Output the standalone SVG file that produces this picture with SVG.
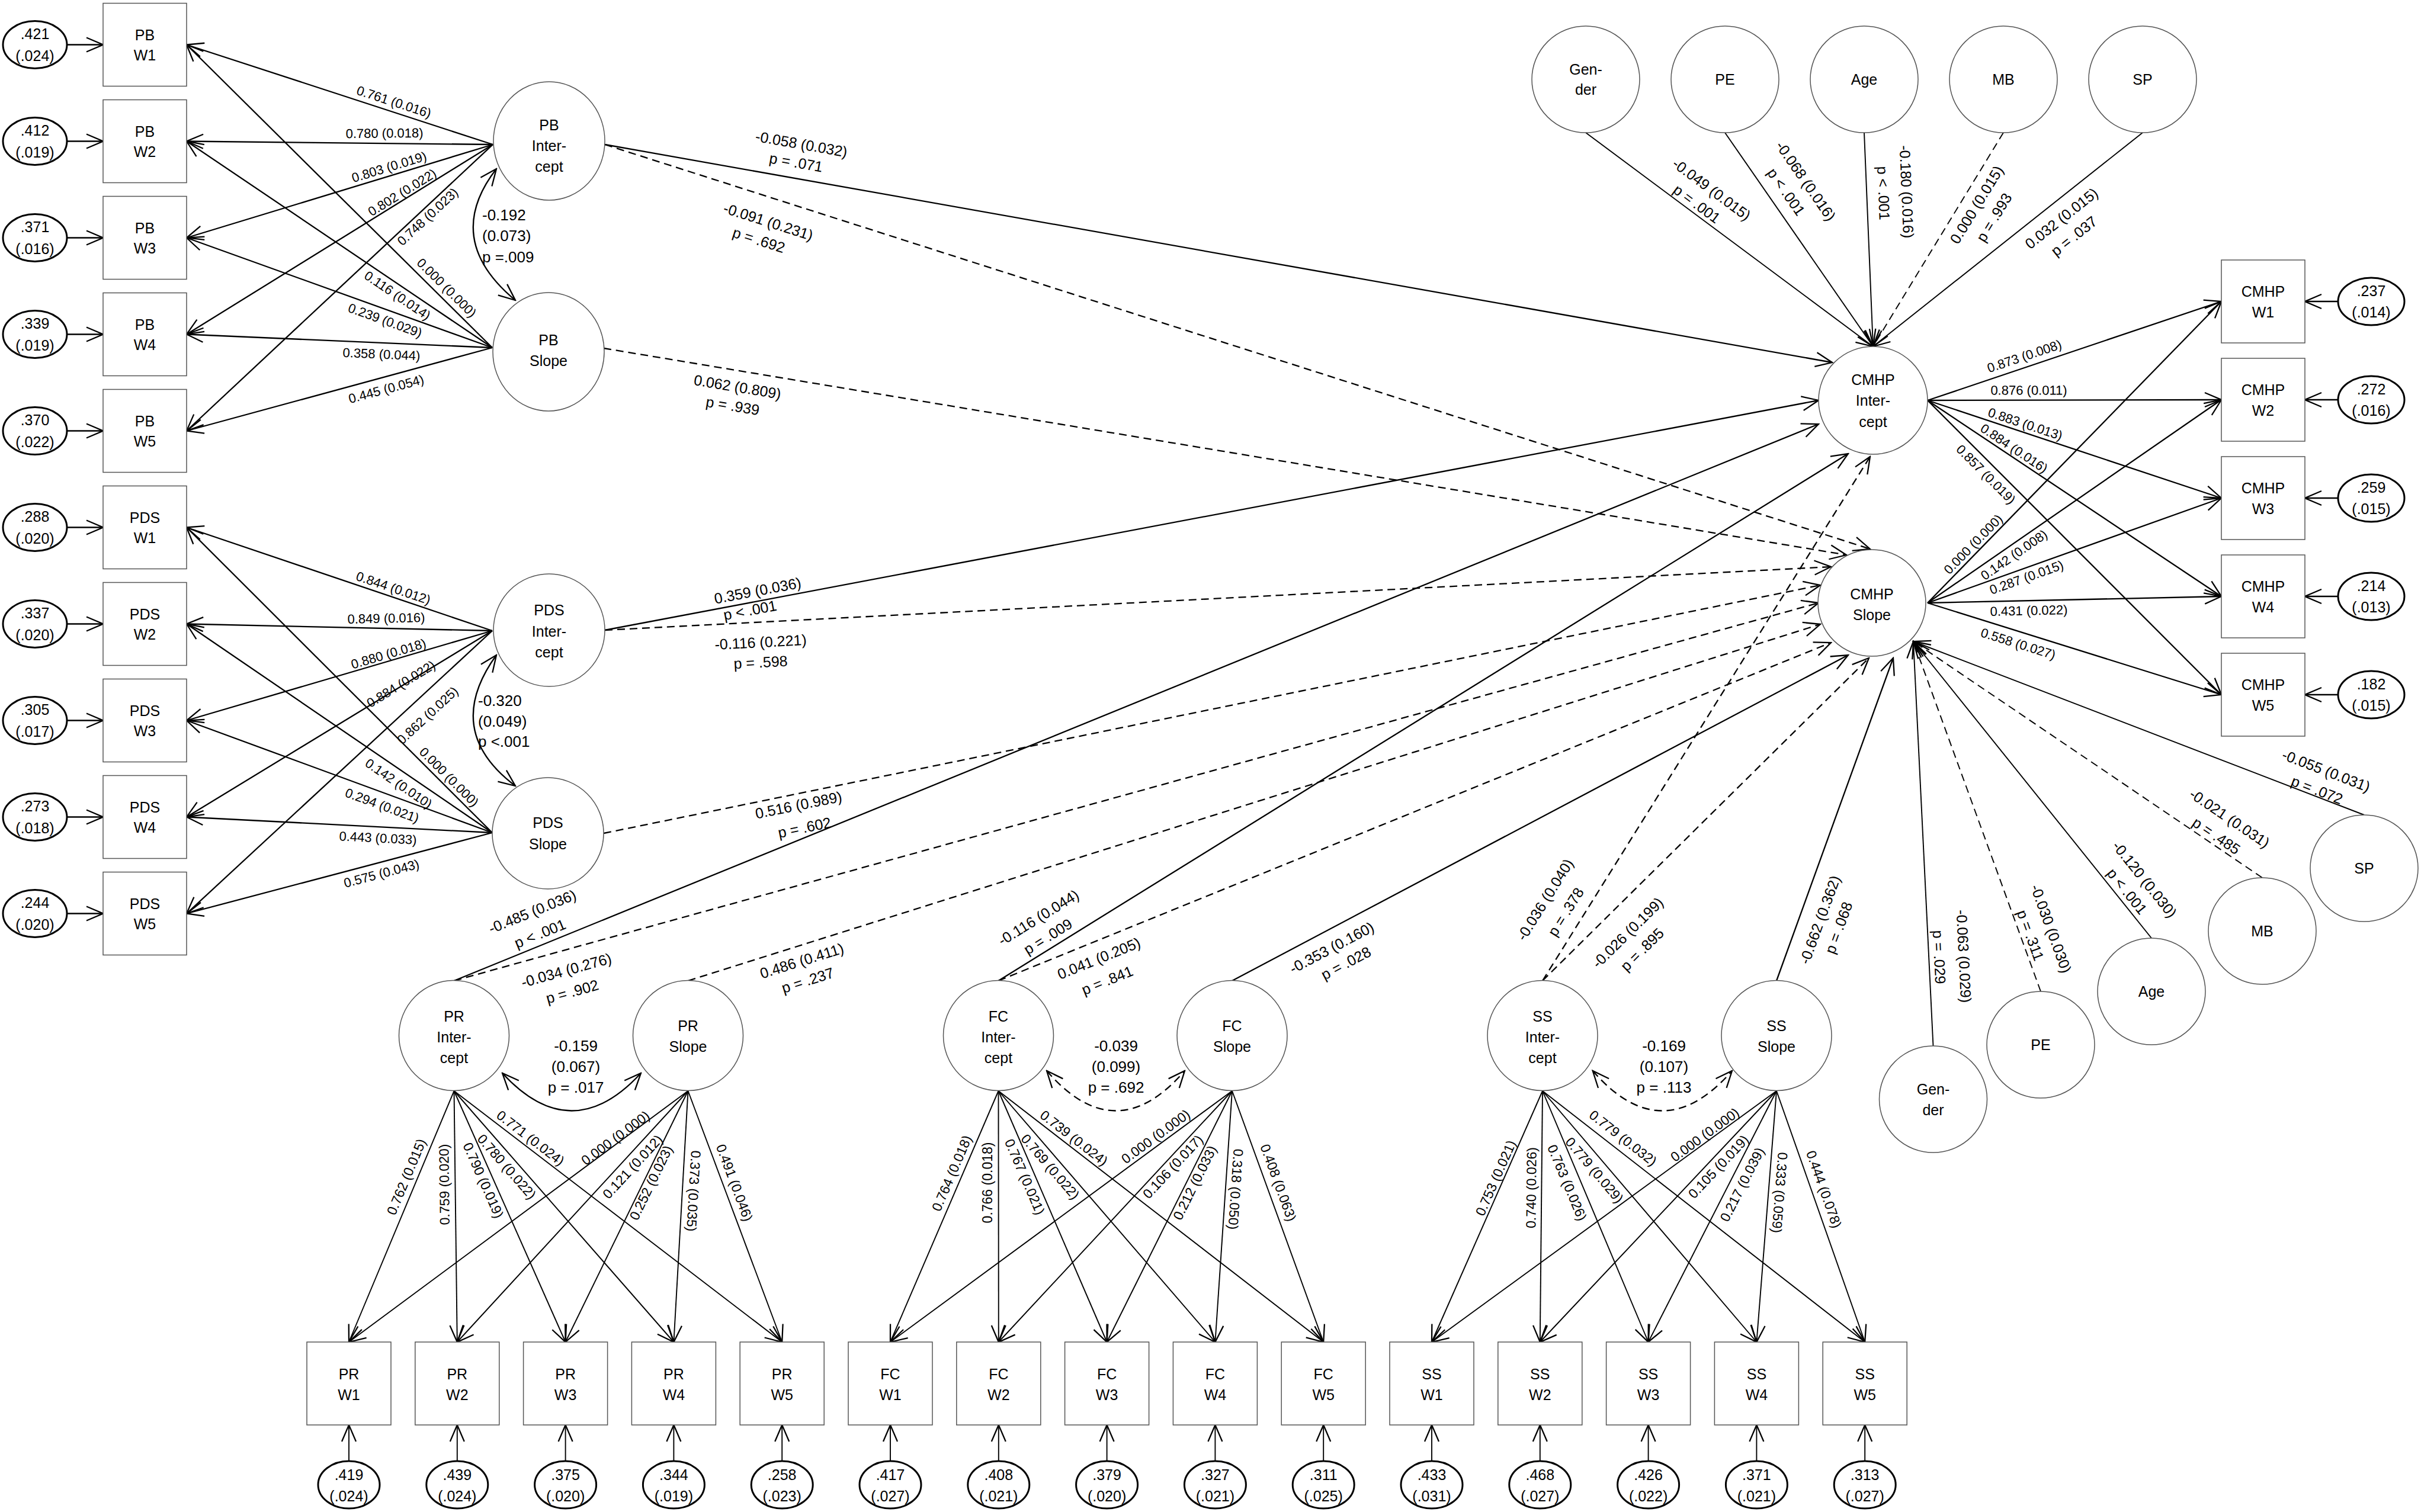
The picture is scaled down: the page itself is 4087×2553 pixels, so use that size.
<svg xmlns="http://www.w3.org/2000/svg" width="4087" height="2553" viewBox="0 0 4087 2553">
<style>
text{font-family:"Liberation Sans",Arial,sans-serif;fill:#000;text-anchor:middle;dominant-baseline:central}
.nt{font-size:25px}
.el{font-size:22px}
.bl{font-size:23px}
.sl{font-size:25px}
.cl{font-size:26px;text-anchor:start}
.cm{font-size:26px}
.bx{fill:#fff;stroke:#555;stroke-width:1.5}
.lv{fill:#fff;stroke:#555;stroke-width:1.5}
.rs{fill:#fff;stroke:#000;stroke-width:3}
.c{fill:none;stroke:#000;stroke-width:2.3;marker-end:url(#ah)}
.t{stroke-width:1.9}
.d{stroke-dasharray:13 8}
.cv{fill:none;stroke:#000;stroke-width:2.3;marker-start:url(#ah);marker-end:url(#ah)}
</style>
<defs>
<marker id="ah" markerUnits="userSpaceOnUse" markerWidth="34" markerHeight="30" viewBox="-32 -15 34 30" refX="0" refY="0" orient="auto-start-reverse"><path d="M-28,-12 L0,0 L-28,12" fill="none" stroke="#000" stroke-width="2.3"/></marker>
</defs>
<rect width="4087" height="2553" fill="#fff"/>
<g id="connectors">
<path class="c" d="M113,75.5H174"/><path class="c" d="M113,238.5H174"/><path class="c" d="M113,401.5H174"/><path class="c" d="M113,564.5H174"/><path class="c" d="M113,727.5H174"/>
<path class="c" d="M113,890.5H174"/><path class="c" d="M113,1053.5H174"/><path class="c" d="M113,1216.5H174"/><path class="c" d="M113,1379.5H174"/><path class="c" d="M113,1542.5H174"/>
<path class="c" d="M832,244L315,75.5"/><path class="c" d="M832,244L315,238.5"/><path class="c" d="M832,244L315,401.5"/><path class="c" d="M832,244L315,564.5"/><path class="c" d="M832,244L315,727.5"/>
<path class="c" d="M831,587L315,75.5"/><path class="c" d="M831,587L315,238.5"/><path class="c" d="M831,587L315,401.5"/><path class="c" d="M831,587L315,564.5"/><path class="c" d="M831,587L315,727.5"/>
<path class="c" d="M831,1065L315,890.5"/><path class="c" d="M831,1065L315,1053.5"/><path class="c" d="M831,1065L315,1216.5"/><path class="c" d="M831,1065L315,1379.5"/><path class="c" d="M831,1065L315,1542.5"/>
<path class="c" d="M831,1406L315,890.5"/><path class="c" d="M831,1406L315,1053.5"/><path class="c" d="M831,1406L315,1216.5"/><path class="c" d="M831,1406L315,1379.5"/><path class="c" d="M831,1406L315,1542.5"/>
<path class="c" d="M3254,676L3750,509"/><path class="c" d="M3254,676L3750,675"/><path class="c" d="M3254,676L3750,841"/><path class="c" d="M3254,676L3750,1007"/><path class="c" d="M3254,676L3750,1173"/>
<path class="c" d="M3254,1018L3750,509"/><path class="c" d="M3254,1018L3750,675"/><path class="c" d="M3254,1018L3750,841"/><path class="c" d="M3254,1018L3750,1007"/><path class="c" d="M3254,1018L3750,1173"/>
<path class="c" d="M3947,509H3891"/><path class="c" d="M3947,675H3891"/><path class="c" d="M3947,841H3891"/><path class="c" d="M3947,1007H3891"/><path class="c" d="M3947,1173H3891"/>
<path class="c t" d="M766.5,1842L589,2266"/><path class="c t" d="M766.5,1842L771.8,2266"/><path class="c t" d="M766.5,1842L954.6,2266"/><path class="c t" d="M766.5,1842L1137.4,2266"/><path class="c t" d="M766.5,1842L1320.2,2266"/>
<path class="c t" d="M1161.5,1842L589,2266"/><path class="c t" d="M1161.5,1842L771.8,2266"/><path class="c t" d="M1161.5,1842L954.6,2266"/><path class="c t" d="M1161.5,1842L1137.4,2266"/><path class="c t" d="M1161.5,1842L1320.2,2266"/>
<path class="c t" d="M1685.5,1842L1503,2266"/><path class="c t" d="M1685.5,1842L1685.8,2266"/><path class="c t" d="M1685.5,1842L1868.6,2266"/><path class="c t" d="M1685.5,1842L2051.4,2266"/><path class="c t" d="M1685.5,1842L2234.2,2266"/>
<path class="c t" d="M2080,1842L1503,2266"/><path class="c t" d="M2080,1842L1685.8,2266"/><path class="c t" d="M2080,1842L1868.6,2266"/><path class="c t" d="M2080,1842L2051.4,2266"/><path class="c t" d="M2080,1842L2234.2,2266"/>
<path class="c t" d="M2604,1842L2417,2266"/><path class="c t" d="M2604,1842L2599.8,2266"/><path class="c t" d="M2604,1842L2782.6,2266"/><path class="c t" d="M2604,1842L2965.4,2266"/><path class="c t" d="M2604,1842L3148.2,2266"/>
<path class="c t" d="M2999,1842L2417,2266"/><path class="c t" d="M2999,1842L2599.8,2266"/><path class="c t" d="M2999,1842L2782.6,2266"/><path class="c t" d="M2999,1842L2965.4,2266"/><path class="c t" d="M2999,1842L3148.2,2266"/>
<path class="c t" d="M589,2467V2406"/><path class="c t" d="M771.8,2467V2406"/><path class="c t" d="M954.6,2467V2406"/><path class="c t" d="M1137.4,2467V2406"/><path class="c t" d="M1320.2,2467V2406"/>
<path class="c t" d="M1503,2467V2406"/><path class="c t" d="M1685.8,2467V2406"/><path class="c t" d="M1868.6,2467V2406"/><path class="c t" d="M2051.4,2467V2406"/><path class="c t" d="M2234.2,2467V2406"/>
<path class="c t" d="M2417,2467V2406"/><path class="c t" d="M2599.8,2467V2406"/><path class="c t" d="M2782.6,2467V2406"/><path class="c t" d="M2965.4,2467V2406"/><path class="c t" d="M3148.2,2467V2406"/>
<path class="cv" d="M838,285Q746,404 870,507"/>
<path class="cv" d="M838,1106Q746,1233.5 870,1327"/>
<path class="cv" d="M848,1812Q965,1939 1082,1812"/>
<path class="cv d" d="M1767,1808Q1883.5,1943 2000,1808"/>
<path class="cv d" d="M2688.7,1808Q2806,1943 2924,1808"/>
<path class="c" d="M1021,244L3093,612"/>
<path class="c d" d="M1021,244L3157,927"/>
<path class="c d" d="M1019,588L3117,937"/>
<path class="c" d="M1021,1064L3070,676"/>
<path class="c d" d="M1021,1064L3091,957"/>
<path class="c d" d="M1019,1407L3073,988"/>
<path class="c" d="M766.5,1656L3070,716"/>
<path class="c d" d="M766.5,1656L3070,1018"/>
<path class="c d" d="M1161.5,1656L3073,1054"/>
<path class="c" d="M1685.5,1656L3120,766"/>
<path class="c d" d="M1685.5,1656L3091,1085"/>
<path class="c" d="M2080,1656L3120,1106"/>
<path class="c d" d="M2604,1656L3157,771"/>
<path class="c d" d="M2604,1656L3155,1111"/>
<path class="c" d="M2999,1656L3196,1111"/>
<path class="c t" d="M2677,224L3162,585"/>
<path class="c t" d="M2912,224L3162,585"/>
<path class="c t" d="M3147,224L3162,585"/>
<path class="c t d" d="M3382,224L3162,585"/>
<path class="c t" d="M3617,224L3162,585"/>
<path class="c t" d="M3263.5,1766L3230,1083"/>
<path class="c t d" d="M3445,1674L3230,1083"/>
<path class="c t" d="M3632,1584L3230,1083"/>
<path class="c t d" d="M3819,1482L3230,1083"/>
<path class="c t" d="M3991,1376L3230,1083"/>
</g>
<g id="edge-labels">
<text class="el" transform="translate(665,172) rotate(18)">0.761 (0.016)</text>
<text class="el" transform="translate(649,225) rotate(-0.6)">0.780 (0.018)</text>
<text class="el" transform="translate(657,282) rotate(-17)">0.803 (0.019)</text>
<text class="el" transform="translate(679,325) rotate(-31.8)">0.802 (0.022)</text>
<text class="el" transform="translate(722,366) rotate(-43)">0.748 (0.023)</text>
<text class="el" transform="translate(754,486) rotate(44.7)">0.000 (0.000)</text>
<text class="el" transform="translate(671,499) rotate(34)">0.116 (0.014)</text>
<text class="el" transform="translate(650,541) rotate(19.8)">0.239 (0.029)</text>
<text class="el" transform="translate(644,598) rotate(2.5)">0.358 (0.044)</text>
<text class="el" transform="translate(652,657) rotate(-15)">0.445 (0.054)</text>
<text class="el" transform="translate(664,993) rotate(18.7)">0.844 (0.012)</text>
<text class="el" transform="translate(652,1044) rotate(-1.3)">0.849 (0.016)</text>
<text class="el" transform="translate(656,1104) rotate(-16.4)">0.880 (0.018)</text>
<text class="el" transform="translate(677,1155) rotate(-31.4)">0.884 (0.022)</text>
<text class="el" transform="translate(722,1208) rotate(-42.8)">0.862 (0.025)</text>
<text class="el" transform="translate(758,1312) rotate(45)">0.000 (0.000)</text>
<text class="el" transform="translate(673,1323) rotate(34.3)">0.142 (0.010)</text>
<text class="el" transform="translate(645,1360) rotate(20.2)">0.294 (0.021)</text>
<text class="el" transform="translate(638,1415) rotate(2.9)">0.443 (0.033)</text>
<text class="el" transform="translate(644,1475) rotate(-14.8)">0.575 (0.043)</text>
<text class="cl" x="814" y="363">-0.192</text>
<text class="cl" x="814" y="398">(0.073)</text>
<text class="cl" x="814" y="434">p =.009</text>
<text class="cl" x="807" y="1183">-0.320</text>
<text class="cl" x="807" y="1218">(0.049)</text>
<text class="cl" x="807" y="1252">p &lt;.001</text>
<text class="el" transform="translate(3417.5,601.5) rotate(-18.6)">0.873 (0.008)</text>
<text class="el" transform="translate(3425,659) rotate(-0.1)">0.876 (0.011)</text>
<text class="el" transform="translate(3419,716) rotate(18.3)">0.883 (0.013)</text>
<text class="el" transform="translate(3400,757) rotate(33.7)">0.884 (0.016)</text>
<text class="el" transform="translate(3352.5,801) rotate(45)">0.857 (0.019)</text>
<text class="el" transform="translate(3331,919) rotate(-45.7)">0.000 (0.000)</text>
<text class="el" transform="translate(3400,937) rotate(-34.7)">0.142 (0.008)</text>
<text class="el" transform="translate(3421,975) rotate(-19.7)">0.287 (0.015)</text>
<text class="el" transform="translate(3425,1031) rotate(-1.3)">0.431 (0.022)</text>
<text class="el" transform="translate(3407,1087) rotate(17.4)">0.558 (0.027)</text>
<text class="bl" transform="translate(686,1987) rotate(-67.3)">0.762 (0.015)</text>
<text class="bl" transform="translate(750,2000) rotate(-90.7)">0.759 (0.020)</text>
<text class="bl" transform="translate(816,1993) rotate(66.1)">0.790 (0.019)</text>
<text class="bl" transform="translate(855.5,1970) rotate(48.8)">0.780 (0.022)</text>
<text class="bl" transform="translate(895.6,1921.5) rotate(37.4)">0.771 (0.024)</text>
<text class="bl" transform="translate(1039,1921.5) rotate(-36.5)">0.000 (0.000)</text>
<text class="bl" transform="translate(1068,1970) rotate(-47.4)">0.121 (0.012)</text>
<text class="bl" transform="translate(1099,1997) rotate(-64)">0.252 (0.023)</text>
<text class="bl" transform="translate(1171,2011) rotate(93.3)">0.373 (0.035)</text>
<text class="bl" transform="translate(1240,1997) rotate(69.5)">0.491 (0.046)</text>
<text class="bl" transform="translate(1606.7,1981) rotate(-66.7)">0.764 (0.018)</text>
<text class="bl" transform="translate(1667,1997) rotate(-90)">0.766 (0.018)</text>
<text class="bl" transform="translate(1730,1987) rotate(66.6)">0.767 (0.021)</text>
<text class="bl" transform="translate(1773,1970) rotate(49.2)">0.769 (0.022)</text>
<text class="bl" transform="translate(1813,1921.5) rotate(37.7)">0.739 (0.024)</text>
<text class="bl" transform="translate(1951,1919) rotate(-36.3)">0.000 (0.000)</text>
<text class="bl" transform="translate(1980,1970) rotate(-47.1)">0.106 (0.017)</text>
<text class="bl" transform="translate(2017,1997) rotate(-63.5)">0.212 (0.033)</text>
<text class="bl" transform="translate(2086,2008) rotate(93.9)">0.318 (0.050)</text>
<text class="bl" transform="translate(2158,1997) rotate(70)">0.408 (0.063)</text>
<text class="bl" transform="translate(2525,1989) rotate(-66.2)">0.753 (0.021)</text>
<text class="bl" transform="translate(2585,2005.5) rotate(-89.4)">0.740 (0.026)</text>
<text class="bl" transform="translate(2645.6,1997) rotate(67.2)">0.763 (0.026)</text>
<text class="bl" transform="translate(2691.6,1975.7) rotate(49.6)">0.779 (0.029)</text>
<text class="bl" transform="translate(2740,1921.5) rotate(37.9)">0.779 (0.032)</text>
<text class="bl" transform="translate(2878,1916) rotate(-36.1)">0.000 (0.000)</text>
<text class="bl" transform="translate(2901,1970) rotate(-46.7)">0.105 (0.019)</text>
<text class="bl" transform="translate(2941,2000) rotate(-63)">0.217 (0.039)</text>
<text class="bl" transform="translate(3004.4,2013.7) rotate(94.5)">0.333 (0.059)</text>
<text class="bl" transform="translate(3079,2008) rotate(70.6)">0.444 (0.078)</text>
<text class="cm" x="972" y="1766">-0.159</text>
<text class="cm" x="972" y="1801">(0.067)</text>
<text class="cm" x="972" y="1836">p = .017</text>
<text class="cm" x="1884" y="1766">-0.039</text>
<text class="cm" x="1884" y="1801">(0.099)</text>
<text class="cm" x="1884" y="1836">p = .692</text>
<text class="cm" x="2809" y="1766">-0.169</text>
<text class="cm" x="2809" y="1801">(0.107)</text>
<text class="cm" x="2809" y="1836">p = .113</text>
<text class="sl" transform="translate(1353,243) rotate(10)">-0.058 (0.032)</text>
<text class="sl" transform="translate(1344,274) rotate(10)">p = .071</text>
<text class="sl" transform="translate(1297,374) rotate(17.7)">-0.091 (0.231)</text>
<text class="sl" transform="translate(1281,405) rotate(17.7)">p = .692</text>
<text class="sl" transform="translate(1245,653) rotate(9.4)">0.062 (0.809)</text>
<text class="sl" transform="translate(1237,685) rotate(9.4)">p = .939</text>
<text class="sl" transform="translate(1279,997) rotate(-10.7)">0.359 (0.036)</text>
<text class="sl" transform="translate(1266,1030) rotate(-10.7)">p &lt; .001</text>
<text class="sl" transform="translate(1284,1084) rotate(-3)">-0.116 (0.221)</text>
<text class="sl" transform="translate(1284,1118) rotate(-3)">p = .598</text>
<text class="sl" transform="translate(1348,1359) rotate(-11.5)">0.516 (0.989)</text>
<text class="sl" transform="translate(1358,1397) rotate(-11.5)">p = .602</text>
<text class="sl" transform="translate(898.5,1539) rotate(-22.2)">-0.485 (0.036)</text>
<text class="sl" transform="translate(911.5,1576) rotate(-22.2)">p &lt; .001</text>
<text class="sl" transform="translate(956,1638) rotate(-15.5)">-0.034 (0.276)</text>
<text class="sl" transform="translate(966,1674) rotate(-15.5)">p = .902</text>
<text class="sl" transform="translate(1353.5,1622) rotate(-17.5)">0.486 (0.411)</text>
<text class="sl" transform="translate(1363.5,1655) rotate(-17.5)">p = .237</text>
<text class="sl" transform="translate(1753,1549) rotate(-31.8)">-0.116 (0.044)</text>
<text class="sl" transform="translate(1769,1581) rotate(-31.8)">p = .009</text>
<text class="sl" transform="translate(1855,1618) rotate(-22.1)">0.041 (0.205)</text>
<text class="sl" transform="translate(1869,1655) rotate(-22.1)">p = .841</text>
<text class="sl" transform="translate(2248,1600) rotate(-27.9)">-0.353 (0.160)</text>
<text class="sl" transform="translate(2272,1626) rotate(-27.9)">p = .028</text>
<text class="sl" transform="translate(2608,1519) rotate(-58)">-0.036 (0.040)</text>
<text class="sl" transform="translate(2643,1539.5) rotate(-58)">p = .378</text>
<text class="sl" transform="translate(2747.6,1574.6) rotate(-44.7)">-0.026 (0.199)</text>
<text class="sl" transform="translate(2772,1603) rotate(-44.7)">p = .895</text>
<text class="sl" transform="translate(3072,1553) rotate(-70)">-0.662 (0.362)</text>
<text class="sl" transform="translate(3103.7,1566.5) rotate(-70)">p = .068</text>
<text class="sl" transform="translate(2889.7,319.7) rotate(36.7)">-0.049 (0.015)</text>
<text class="sl" transform="translate(2864.7,344) rotate(36.7)">p = .001</text>
<text class="sl" transform="translate(3048.6,305.4) rotate(55.3)">-0.068 (0.016)</text>
<text class="sl" transform="translate(3015.6,323.7) rotate(55.3)">p &lt; .001</text>
<text class="sl" transform="translate(3219,323.7) rotate(87.6)">-0.180 (0.016)</text>
<text class="sl" transform="translate(3180,326) rotate(87.6)">p &lt; .001</text>
<text class="sl" transform="translate(3336.6,345.5) rotate(-58.6)">0.000 (0.015)</text>
<text class="sl" transform="translate(3366,367) rotate(-58.6)">p = .993</text>
<text class="sl" transform="translate(3480,368.4) rotate(-38.4)">0.032 (0.015)</text>
<text class="sl" transform="translate(3501,398.4) rotate(-38.4)">p = .037</text>
<text class="sl" transform="translate(3927,1301) rotate(21.1)">-0.055 (0.031)</text>
<text class="sl" transform="translate(3911.6,1333.6) rotate(21.1)">p = .072</text>
<text class="sl" transform="translate(3764,1381.5) rotate(34.1)">-0.021 (0.031)</text>
<text class="sl" transform="translate(3741.7,1411) rotate(34.1)">p = .485</text>
<text class="sl" transform="translate(3620.6,1484.6) rotate(51.3)">-0.120 (0.030)</text>
<text class="sl" transform="translate(3591,1504.7) rotate(51.3)">p &lt; .001</text>
<text class="sl" transform="translate(3462.6,1568) rotate(70)">-0.030 (0.030)</text>
<text class="sl" transform="translate(3428,1579) rotate(70)">p = .311</text>
<text class="sl" transform="translate(3315.5,1614.6) rotate(87.2)">-0.063 (0.029)</text>
<text class="sl" transform="translate(3274,1616) rotate(87.2)">p = .029</text>
</g>
<g id="PB_W1"><rect class="bx" x="174" y="5.5" width="141" height="140"/><text class="nt" x="244.5" y="59">PB</text><text class="nt" x="244.5" y="93">W1</text></g>
<g id="PB_W2"><rect class="bx" x="174" y="168.5" width="141" height="140"/><text class="nt" x="244.5" y="222">PB</text><text class="nt" x="244.5" y="256">W2</text></g>
<g id="PB_W3"><rect class="bx" x="174" y="331.5" width="141" height="140"/><text class="nt" x="244.5" y="385">PB</text><text class="nt" x="244.5" y="419">W3</text></g>
<g id="PB_W4"><rect class="bx" x="174" y="494.5" width="141" height="140"/><text class="nt" x="244.5" y="548">PB</text><text class="nt" x="244.5" y="582">W4</text></g>
<g id="PB_W5"><rect class="bx" x="174" y="657.5" width="141" height="140"/><text class="nt" x="244.5" y="711">PB</text><text class="nt" x="244.5" y="745">W5</text></g>
<g id="PDS_W1"><rect class="bx" x="174" y="820.5" width="141" height="140"/><text class="nt" x="244.5" y="874">PDS</text><text class="nt" x="244.5" y="908">W1</text></g>
<g id="PDS_W2"><rect class="bx" x="174" y="983.5" width="141" height="140"/><text class="nt" x="244.5" y="1037">PDS</text><text class="nt" x="244.5" y="1071">W2</text></g>
<g id="PDS_W3"><rect class="bx" x="174" y="1146.5" width="141" height="140"/><text class="nt" x="244.5" y="1200">PDS</text><text class="nt" x="244.5" y="1234">W3</text></g>
<g id="PDS_W4"><rect class="bx" x="174" y="1309.5" width="141" height="140"/><text class="nt" x="244.5" y="1363">PDS</text><text class="nt" x="244.5" y="1397">W4</text></g>
<g id="PDS_W5"><rect class="bx" x="174" y="1472.5" width="141" height="140"/><text class="nt" x="244.5" y="1526">PDS</text><text class="nt" x="244.5" y="1560">W5</text></g>
<g id="e_PB_W1"><ellipse class="rs" cx="59" cy="75.5" rx="54" ry="40"/><text class="nt" x="59" y="57">.421</text><text class="nt" x="59" y="94">(.024)</text></g>
<g id="e_PB_W2"><ellipse class="rs" cx="59" cy="238.5" rx="54" ry="40"/><text class="nt" x="59" y="220">.412</text><text class="nt" x="59" y="257">(.019)</text></g>
<g id="e_PB_W3"><ellipse class="rs" cx="59" cy="401.5" rx="54" ry="40"/><text class="nt" x="59" y="383">.371</text><text class="nt" x="59" y="420">(.016)</text></g>
<g id="e_PB_W4"><ellipse class="rs" cx="59" cy="564.5" rx="54" ry="40"/><text class="nt" x="59" y="546">.339</text><text class="nt" x="59" y="583">(.019)</text></g>
<g id="e_PB_W5"><ellipse class="rs" cx="59" cy="727.5" rx="54" ry="40"/><text class="nt" x="59" y="709">.370</text><text class="nt" x="59" y="746">(.022)</text></g>
<g id="e_PDS_W1"><ellipse class="rs" cx="59" cy="890.5" rx="54" ry="40"/><text class="nt" x="59" y="872">.288</text><text class="nt" x="59" y="909">(.020)</text></g>
<g id="e_PDS_W2"><ellipse class="rs" cx="59" cy="1053.5" rx="54" ry="40"/><text class="nt" x="59" y="1035">.337</text><text class="nt" x="59" y="1072">(.020)</text></g>
<g id="e_PDS_W3"><ellipse class="rs" cx="59" cy="1216.5" rx="54" ry="40"/><text class="nt" x="59" y="1198">.305</text><text class="nt" x="59" y="1235">(.017)</text></g>
<g id="e_PDS_W4"><ellipse class="rs" cx="59" cy="1379.5" rx="54" ry="40"/><text class="nt" x="59" y="1361">.273</text><text class="nt" x="59" y="1398">(.018)</text></g>
<g id="e_PDS_W5"><ellipse class="rs" cx="59" cy="1542.5" rx="54" ry="40"/><text class="nt" x="59" y="1524">.244</text><text class="nt" x="59" y="1561">(.020)</text></g>
<g id="PB_Intercept"><ellipse class="lv" cx="927" cy="238" rx="94" ry="100"/><text class="nt" x="927" y="211">PB</text><text class="nt" x="927" y="246">Inter-</text><text class="nt" x="927" y="281">cept</text></g>
<g id="PB_Slope"><ellipse class="lv" cx="926" cy="594" rx="94" ry="100"/><text class="nt" x="926" y="574">PB</text><text class="nt" x="926" y="609">Slope</text></g>
<g id="PDS_Intercept"><ellipse class="lv" cx="927" cy="1064" rx="94" ry="95"/><text class="nt" x="927" y="1030">PDS</text><text class="nt" x="927" y="1066">Inter-</text><text class="nt" x="927" y="1101">cept</text></g>
<g id="PDS_Slope"><ellipse class="lv" cx="925" cy="1407" rx="94" ry="94"/><text class="nt" x="925" y="1389">PDS</text><text class="nt" x="925" y="1425">Slope</text></g>
<g id="CMHP_Intercept"><ellipse class="lv" cx="3162" cy="676" rx="92" ry="91"/><text class="nt" x="3162" y="641">CMHP</text><text class="nt" x="3162" y="676">Inter-</text><text class="nt" x="3162" y="712">cept</text></g>
<g id="CMHP_Slope"><ellipse class="lv" cx="3160" cy="1018" rx="91" ry="90"/><text class="nt" x="3160" y="1003">CMHP</text><text class="nt" x="3160" y="1038">Slope</text></g>
<g id="CMHP_W1"><rect class="bx" x="3750" y="439" width="141" height="140"/><text class="nt" x="3820.5" y="492">CMHP</text><text class="nt" x="3820.5" y="527">W1</text></g>
<g id="CMHP_W2"><rect class="bx" x="3750" y="605" width="141" height="140"/><text class="nt" x="3820.5" y="658">CMHP</text><text class="nt" x="3820.5" y="693">W2</text></g>
<g id="CMHP_W3"><rect class="bx" x="3750" y="771" width="141" height="140"/><text class="nt" x="3820.5" y="824">CMHP</text><text class="nt" x="3820.5" y="859">W3</text></g>
<g id="CMHP_W4"><rect class="bx" x="3750" y="937" width="141" height="140"/><text class="nt" x="3820.5" y="990">CMHP</text><text class="nt" x="3820.5" y="1025">W4</text></g>
<g id="CMHP_W5"><rect class="bx" x="3750" y="1103" width="141" height="140"/><text class="nt" x="3820.5" y="1156">CMHP</text><text class="nt" x="3820.5" y="1191">W5</text></g>
<g id="e_CMHP_W1"><ellipse class="rs" cx="4003" cy="509" rx="56" ry="40"/><text class="nt" x="4003" y="491">.237</text><text class="nt" x="4003" y="527">(.014)</text></g>
<g id="e_CMHP_W2"><ellipse class="rs" cx="4003" cy="675" rx="56" ry="40"/><text class="nt" x="4003" y="657">.272</text><text class="nt" x="4003" y="693">(.016)</text></g>
<g id="e_CMHP_W3"><ellipse class="rs" cx="4003" cy="841" rx="56" ry="40"/><text class="nt" x="4003" y="823">.259</text><text class="nt" x="4003" y="859">(.015)</text></g>
<g id="e_CMHP_W4"><ellipse class="rs" cx="4003" cy="1007" rx="56" ry="40"/><text class="nt" x="4003" y="989">.214</text><text class="nt" x="4003" y="1025">(.013)</text></g>
<g id="e_CMHP_W5"><ellipse class="rs" cx="4003" cy="1173" rx="56" ry="40"/><text class="nt" x="4003" y="1155">.182</text><text class="nt" x="4003" y="1191">(.015)</text></g>
<g id="Gender_top"><ellipse class="lv" cx="2677" cy="134" rx="91" ry="90"/><text class="nt" x="2677" y="117">Gen-</text><text class="nt" x="2677" y="151">der</text></g>
<g id="PE_top"><ellipse class="lv" cx="2912" cy="134" rx="91" ry="90"/><text class="nt" x="2912" y="134">PE</text></g>
<g id="Age_top"><ellipse class="lv" cx="3147" cy="134" rx="91" ry="90"/><text class="nt" x="3147" y="134">Age</text></g>
<g id="MB_top"><ellipse class="lv" cx="3382" cy="134" rx="91" ry="90"/><text class="nt" x="3382" y="134">MB</text></g>
<g id="SP_top"><ellipse class="lv" cx="3617" cy="134" rx="91" ry="90"/><text class="nt" x="3617" y="134">SP</text></g>
<g id="Gender_bottom"><ellipse class="lv" cx="3263.5" cy="1856" rx="91" ry="90"/><text class="nt" x="3263.5" y="1839">Gen-</text><text class="nt" x="3263.5" y="1874">der</text></g>
<g id="PE_bottom"><ellipse class="lv" cx="3445" cy="1764" rx="91" ry="90"/><text class="nt" x="3445" y="1764">PE</text></g>
<g id="Age_bottom"><ellipse class="lv" cx="3632" cy="1674" rx="91" ry="90"/><text class="nt" x="3632" y="1674">Age</text></g>
<g id="MB_bottom"><ellipse class="lv" cx="3819" cy="1572" rx="91" ry="90"/><text class="nt" x="3819" y="1572">MB</text></g>
<g id="SP_bottom"><ellipse class="lv" cx="3991" cy="1466" rx="91" ry="90"/><text class="nt" x="3991" y="1466">SP</text></g>
<g id="PR_Intercept"><ellipse class="lv" cx="766.5" cy="1748.5" rx="93" ry="93"/><text class="nt" x="766.5" y="1716">PR</text><text class="nt" x="766.5" y="1751">Inter-</text><text class="nt" x="766.5" y="1786">cept</text></g>
<g id="PR_Slope"><ellipse class="lv" cx="1161.5" cy="1748.5" rx="93" ry="93"/><text class="nt" x="1161.5" y="1732">PR</text><text class="nt" x="1161.5" y="1767">Slope</text></g>
<g id="FC_Intercept"><ellipse class="lv" cx="1685.5" cy="1748.5" rx="93" ry="93"/><text class="nt" x="1685.5" y="1716">FC</text><text class="nt" x="1685.5" y="1751">Inter-</text><text class="nt" x="1685.5" y="1786">cept</text></g>
<g id="FC_Slope"><ellipse class="lv" cx="2080" cy="1748.5" rx="93" ry="93"/><text class="nt" x="2080" y="1732">FC</text><text class="nt" x="2080" y="1767">Slope</text></g>
<g id="SS_Intercept"><ellipse class="lv" cx="2604" cy="1748.5" rx="93" ry="93"/><text class="nt" x="2604" y="1716">SS</text><text class="nt" x="2604" y="1751">Inter-</text><text class="nt" x="2604" y="1786">cept</text></g>
<g id="SS_Slope"><ellipse class="lv" cx="2999" cy="1748.5" rx="93" ry="93"/><text class="nt" x="2999" y="1732">SS</text><text class="nt" x="2999" y="1767">Slope</text></g>
<g id="PR_W1"><rect class="bx" x="518" y="2266" width="142" height="140"/><text class="nt" x="589" y="2320">PR</text><text class="nt" x="589" y="2355">W1</text></g>
<g id="PR_W2"><rect class="bx" x="700.8" y="2266" width="142" height="140"/><text class="nt" x="771.8" y="2320">PR</text><text class="nt" x="771.8" y="2355">W2</text></g>
<g id="PR_W3"><rect class="bx" x="883.6" y="2266" width="142" height="140"/><text class="nt" x="954.6" y="2320">PR</text><text class="nt" x="954.6" y="2355">W3</text></g>
<g id="PR_W4"><rect class="bx" x="1066.4" y="2266" width="142" height="140"/><text class="nt" x="1137.4" y="2320">PR</text><text class="nt" x="1137.4" y="2355">W4</text></g>
<g id="PR_W5"><rect class="bx" x="1249.2" y="2266" width="142" height="140"/><text class="nt" x="1320.2" y="2320">PR</text><text class="nt" x="1320.2" y="2355">W5</text></g>
<g id="FC_W1"><rect class="bx" x="1432" y="2266" width="142" height="140"/><text class="nt" x="1503" y="2320">FC</text><text class="nt" x="1503" y="2355">W1</text></g>
<g id="FC_W2"><rect class="bx" x="1614.8" y="2266" width="142" height="140"/><text class="nt" x="1685.8" y="2320">FC</text><text class="nt" x="1685.8" y="2355">W2</text></g>
<g id="FC_W3"><rect class="bx" x="1797.6" y="2266" width="142" height="140"/><text class="nt" x="1868.6" y="2320">FC</text><text class="nt" x="1868.6" y="2355">W3</text></g>
<g id="FC_W4"><rect class="bx" x="1980.4" y="2266" width="142" height="140"/><text class="nt" x="2051.4" y="2320">FC</text><text class="nt" x="2051.4" y="2355">W4</text></g>
<g id="FC_W5"><rect class="bx" x="2163.2" y="2266" width="142" height="140"/><text class="nt" x="2234.2" y="2320">FC</text><text class="nt" x="2234.2" y="2355">W5</text></g>
<g id="SS_W1"><rect class="bx" x="2346" y="2266" width="142" height="140"/><text class="nt" x="2417" y="2320">SS</text><text class="nt" x="2417" y="2355">W1</text></g>
<g id="SS_W2"><rect class="bx" x="2528.8" y="2266" width="142" height="140"/><text class="nt" x="2599.8" y="2320">SS</text><text class="nt" x="2599.8" y="2355">W2</text></g>
<g id="SS_W3"><rect class="bx" x="2711.6" y="2266" width="142" height="140"/><text class="nt" x="2782.6" y="2320">SS</text><text class="nt" x="2782.6" y="2355">W3</text></g>
<g id="SS_W4"><rect class="bx" x="2894.4" y="2266" width="142" height="140"/><text class="nt" x="2965.4" y="2320">SS</text><text class="nt" x="2965.4" y="2355">W4</text></g>
<g id="SS_W5"><rect class="bx" x="3077.2" y="2266" width="142" height="140"/><text class="nt" x="3148.2" y="2320">SS</text><text class="nt" x="3148.2" y="2355">W5</text></g>
<g id="e_PR_W1"><ellipse class="rs" cx="589" cy="2507" rx="52" ry="40"/><text class="nt" x="589" y="2490">.419</text><text class="nt" x="589" y="2526">(.024)</text></g>
<g id="e_PR_W2"><ellipse class="rs" cx="771.8" cy="2507" rx="52" ry="40"/><text class="nt" x="771.8" y="2490">.439</text><text class="nt" x="771.8" y="2526">(.024)</text></g>
<g id="e_PR_W3"><ellipse class="rs" cx="954.6" cy="2507" rx="52" ry="40"/><text class="nt" x="954.6" y="2490">.375</text><text class="nt" x="954.6" y="2526">(.020)</text></g>
<g id="e_PR_W4"><ellipse class="rs" cx="1137.4" cy="2507" rx="52" ry="40"/><text class="nt" x="1137.4" y="2490">.344</text><text class="nt" x="1137.4" y="2526">(.019)</text></g>
<g id="e_PR_W5"><ellipse class="rs" cx="1320.2" cy="2507" rx="52" ry="40"/><text class="nt" x="1320.2" y="2490">.258</text><text class="nt" x="1320.2" y="2526">(.023)</text></g>
<g id="e_FC_W1"><ellipse class="rs" cx="1503" cy="2507" rx="52" ry="40"/><text class="nt" x="1503" y="2490">.417</text><text class="nt" x="1503" y="2526">(.027)</text></g>
<g id="e_FC_W2"><ellipse class="rs" cx="1685.8" cy="2507" rx="52" ry="40"/><text class="nt" x="1685.8" y="2490">.408</text><text class="nt" x="1685.8" y="2526">(.021)</text></g>
<g id="e_FC_W3"><ellipse class="rs" cx="1868.6" cy="2507" rx="52" ry="40"/><text class="nt" x="1868.6" y="2490">.379</text><text class="nt" x="1868.6" y="2526">(.020)</text></g>
<g id="e_FC_W4"><ellipse class="rs" cx="2051.4" cy="2507" rx="52" ry="40"/><text class="nt" x="2051.4" y="2490">.327</text><text class="nt" x="2051.4" y="2526">(.021)</text></g>
<g id="e_FC_W5"><ellipse class="rs" cx="2234.2" cy="2507" rx="52" ry="40"/><text class="nt" x="2234.2" y="2490">.311</text><text class="nt" x="2234.2" y="2526">(.025)</text></g>
<g id="e_SS_W1"><ellipse class="rs" cx="2417" cy="2507" rx="52" ry="40"/><text class="nt" x="2417" y="2490">.433</text><text class="nt" x="2417" y="2526">(.031)</text></g>
<g id="e_SS_W2"><ellipse class="rs" cx="2599.8" cy="2507" rx="52" ry="40"/><text class="nt" x="2599.8" y="2490">.468</text><text class="nt" x="2599.8" y="2526">(.027)</text></g>
<g id="e_SS_W3"><ellipse class="rs" cx="2782.6" cy="2507" rx="52" ry="40"/><text class="nt" x="2782.6" y="2490">.426</text><text class="nt" x="2782.6" y="2526">(.022)</text></g>
<g id="e_SS_W4"><ellipse class="rs" cx="2965.4" cy="2507" rx="52" ry="40"/><text class="nt" x="2965.4" y="2490">.371</text><text class="nt" x="2965.4" y="2526">(.021)</text></g>
<g id="e_SS_W5"><ellipse class="rs" cx="3148.2" cy="2507" rx="52" ry="40"/><text class="nt" x="3148.2" y="2490">.313</text><text class="nt" x="3148.2" y="2526">(.027)</text></g>
</svg>
